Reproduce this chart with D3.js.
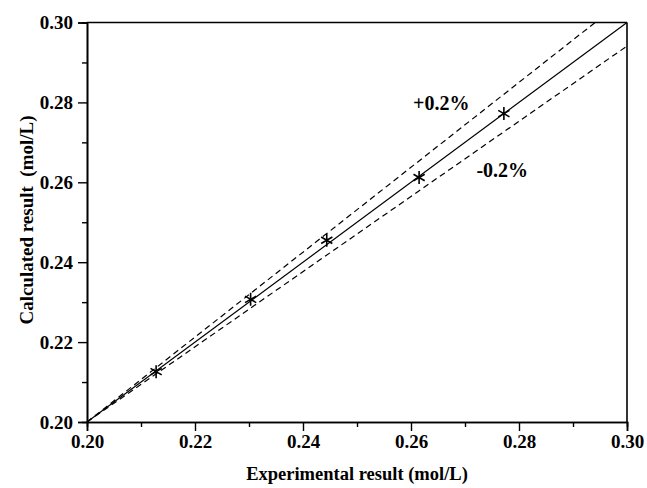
<!DOCTYPE html>
<html>
<head>
<meta charset="utf-8">
<script src="https://cdn.jsdelivr.net/npm/d3@7"></script>
<style>
  body { margin: 0; background: #fff; }
  text { font-family: "Liberation Serif", "Times New Roman", serif; font-weight: bold; }
</style>
</head>
<body>
<div id="chart"></div>
<script>
// data
var expX = [0.2128, 0.2303, 0.2444, 0.2615, 0.2772];
var calcY = [0.2126, 0.2307, 0.2455, 0.2612, 0.2772];
var majorTicks = [0.20, 0.22, 0.24, 0.26, 0.28, 0.30];
var minorTicks = [0.21, 0.23, 0.25, 0.27, 0.29];
// reference lines: [x0, y0, x1, y1]
var idealLine = [0.20, 0.20, 0.30, 0.30];
var upperLine = [0.20, 0.20, 0.2941, 0.30];
var lowerLine = [0.20, 0.20, 0.30, 0.2941];
var bandLabels = [["+0.2%", 0.2656, 0.2780], ["-0.2%", 0.2769, 0.26125]];

var width = 647, height = 488;
var plotL = 87, plotR = 627, plotT = 22.5, plotB = 422;

var svg = d3.select("#chart").append("svg")
	.attr("width", width)
	.attr("height", height);

var x = d3.scaleLinear().domain([0.2, 0.3]).range([plotL, plotR]);
var y = d3.scaleLinear().domain([0.2, 0.3]).range([plotB, plotT]);

//-- Axes
var xAxis = d3.axisBottom(x).tickValues(majorTicks).tickFormat(d3.format(".2f")).tickSize(9).tickPadding(4);
var yAxis = d3.axisLeft(y).tickValues(majorTicks).tickFormat(d3.format(".2f")).tickSize(9).tickPadding(5);

var gx = svg.append("g").attr("transform", "translate(0," + plotB + ")").call(xAxis);
var gy = svg.append("g").attr("transform", "translate(" + plotL + ",0)").call(yAxis);
[gx, gy].forEach(function(g) {
	g.attr("font-size", 19)
		.attr("font-family", "Liberation Serif")
		.attr("font-weight", "bold");
	g.selectAll("text").attr("font-size", 19).attr("fill", "#000");
});

svg.append("g").attr("transform", "translate(0," + plotB + ")")
	.call(d3.axisBottom(x).tickValues(minorTicks).tickSize(5).tickFormat(""));
svg.append("g").attr("transform", "translate(" + plotL + ",0)")
	.call(d3.axisLeft(y).tickValues(minorTicks).tickSize(5).tickFormat(""));

svg.selectAll(".domain").attr("stroke", "#000").attr("stroke-width", 1.6);
svg.selectAll(".tick line").attr("stroke", "#000").attr("stroke-width", 1.4);

//-- Frame top / right
svg.append("line").attr("x1", x(0.2)).attr("x2", x(0.3)).attr("y1", y(0.3)).attr("y2", y(0.3))
	.attr("stroke", "#000").attr("stroke-width", 1.6);
svg.append("line").attr("x1", x(0.3)).attr("x2", x(0.3)).attr("y1", y(0.2)).attr("y2", y(0.3))
	.attr("stroke", "#000").attr("stroke-width", 1.6);

//-- Reference lines
function refLine(l, dash) {
	svg.append("line")
		.attr("x1", x(l[0])).attr("y1", y(l[1]))
		.attr("x2", x(l[2])).attr("y2", y(l[3]))
		.attr("stroke", "#000").attr("stroke-width", 1.2)
		.attr("stroke-dasharray", dash);
}
refLine(idealLine, null);
refLine(upperLine, "6,4");
refLine(lowerLine, "6,4");

//-- Asterisk markers
var star = "M0,-6.5V6.5M-5.6,-3.25L5.6,3.25M-5.6,3.25L5.6,-3.25";
svg.append("g").selectAll("path")
	.data(expX)
	.enter().append("path")
	.attr("transform", function(d, i) { return "translate(" + x(d) + "," + y(calcY[i]) + ")"; })
	.attr("d", star)
	.attr("stroke", "#000")
	.attr("stroke-width", 1.6)
	.attr("fill", "none");

//-- Band labels
svg.selectAll(".band")
	.data(bandLabels)
	.enter().append("text")
	.attr("x", function(d) { return x(d[1]); })
	.attr("y", function(d) { return y(d[2]); })
	.attr("text-anchor", "middle")
	.attr("font-size", 20)
	.text(function(d) { return d[0]; });

//-- Axis titles
svg.append("text")
	.attr("x", (plotL + plotR) / 2)
	.attr("y", 480)
	.attr("text-anchor", "middle")
	.attr("font-size", 18.5)
	.text("Experimental result (mol/L)");

svg.append("text")
	.attr("transform", "translate(33,220) rotate(-90)")
	.attr("text-anchor", "middle")
	.attr("font-size", 19)
	.style("white-space", "pre")
	.text("Calculated result  (mol/L)");
</script>
</body>
</html>
